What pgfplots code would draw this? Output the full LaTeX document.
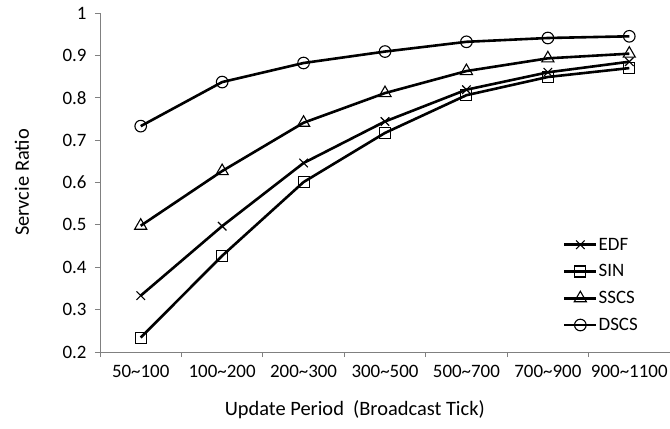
\documentclass[border=0pt]{standalone}
\usepackage{fontspec}
\setmainfont{Carlito}
\usepackage{pgfplots}
\pgfplotsset{compat=1.18}
\begin{document}
\begin{tikzpicture}
\begin{axis}[
  scale only axis,
  width=570bp, height=339bp,
  xmin=-0.5, xmax=6.5,
  ymin=0.2, ymax=1,
  axis lines*=left,
  axis line style={draw=black!50, line width=0.8bp},
  xtick={0,1,2,3,4,5,6},
  xticklabels={50\char`~100,100\char`~200,200\char`~300,300\char`~500,500\char`~700,700\char`~900,900\char`~1100},
  major x tick style={draw=none},
  minor xtick={-0.5,0.5,1.5,2.5,3.5,4.5,5.5,6.5},
  minor x tick style={draw=black!50, line width=0.8bp},
  minor tick length=5bp,
  ytick={0.2,0.3,0.4,0.5,0.6,0.7,0.8,0.9,1},
  yticklabels={0.2,0.3,0.4,0.5,0.6,0.7,0.8,0.9,1},
  major y tick style={draw=black!50, line width=0.8bp},
  major tick length=5bp,
  tick align=outside,
  tick label style={font=\fontsize{19}{22}\selectfont, text=black},
  xticklabel style={anchor=north, yshift=-5bp},
  yticklabel style={anchor=east, xshift=-5bp},
  xlabel={Update Period\ \ (Broadcast Tick)},
  ylabel={Servcie Ratio},
  label style={font=\fontsize{20.5}{24}\selectfont},
  xlabel style={at={(axis description cs:0.447,-0.171)}, anchor=center},
  ylabel style={at={(axis description cs:-0.137,0.5)}, anchor=center, rotate=0},
  every axis plot/.append style={line width=2.6bp, black, mark options={fill=none, line width=1.1bp, solid}},
  legend style={at={(axis description cs:0.812,0.34)}, anchor=north west, draw=none, fill=none,
    font=\fontsize{19}{22}\selectfont, row sep=11bp, inner sep=0pt,
    nodes={inner sep=1bp, anchor=west}},
  legend cell align=left,
  legend image code/.code={\draw[mark repeat=2,mark phase=2,#1] plot coordinates {(0bp,0bp) (16bp,0bp) (32bp,0bp)};},
  clip=false,
]
\addplot[mark=x, mark size=6bp] coordinates {(0,0.333) (1,0.497) (2,0.646) (3,0.744) (4,0.819) (5,0.860) (6,0.885)};
\addlegendentry{EDF}
\addplot[mark=square, mark size=5.5bp] coordinates {(0,0.234) (1,0.427) (2,0.601) (3,0.717) (4,0.806) (5,0.849) (6,0.870)};
\addlegendentry{SIN}
\addplot[mark=triangle, mark size=7bp] coordinates {(0,0.498) (1,0.627) (2,0.741) (3,0.811) (4,0.863) (5,0.893) (6,0.904)};
\addlegendentry{SSCS}
\addplot[mark=o, mark size=5.8bp] coordinates {(0,0.733) (1,0.837) (2,0.882) (3,0.909) (4,0.932) (5,0.941) (6,0.945)};
\addlegendentry{DSCS}
\end{axis}
\pgfresetboundingbox
\path (-100bp,-77bp) rectangle (570bp,352bp);
\end{tikzpicture}
\end{document}
